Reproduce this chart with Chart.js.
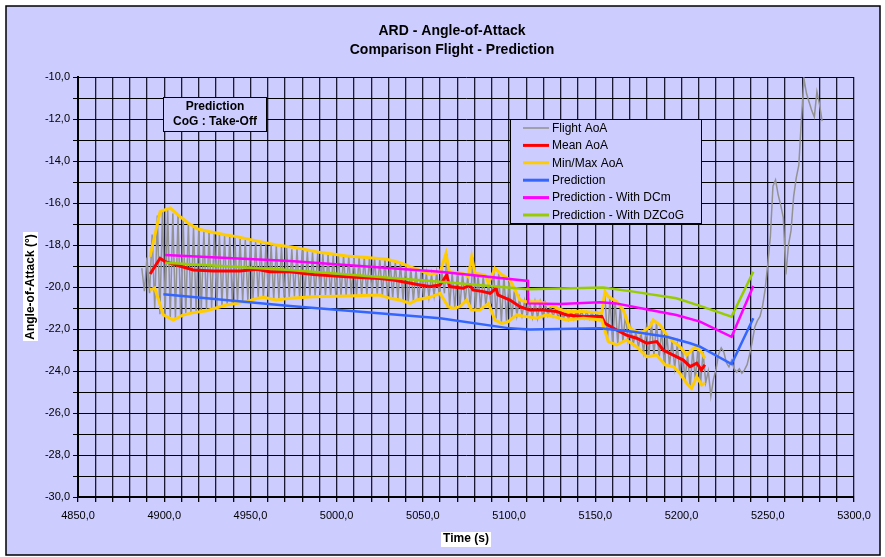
<!DOCTYPE html>
<html>
<head>
<meta charset="utf-8">
<script src="https://cdn.jsdelivr.net/npm/chart.js@4/dist/chart.umd.min.js"></script>
<style>
  html, body { margin: 0; padding: 0; background: #ffffff; }
  #c { display: block; }
</style>
</head>
<body>
<canvas id="c" width="885" height="557"></canvas>
<script>
// ---------------- DATA ----------------
const chartTitle = ['ARD - Angle-of-Attack', 'Comparison Flight - Prediction'];
const xAxisTitle = 'Time (s)';
const yAxisTitle = 'Angle-of-Attack (°)';
const annotationLines = ['Prediction', 'CoG : Take-Off'];

const xTickValues = [4850, 4900, 4950, 5000, 5050, 5100, 5150, 5200, 5250, 5300];
const xTickLabels = ['4850,0', '4900,0', '4950,0', '5000,0', '5050,0', '5100,0', '5150,0', '5200,0', '5250,0', '5300,0'];
const yTickValues = [-30, -28, -26, -24, -22, -20, -18, -16, -14, -12, -10];
const yTickLabels = ['-30,0', '-28,0', '-26,0', '-24,0', '-22,0', '-20,0', '-18,0', '-16,0', '-14,0', '-12,0', '-10,0'];

const seriesNames = ['Flight AoA', 'Mean AoA', 'Min/Max AoA', 'Prediction', 'Prediction - With DCm', 'Prediction - With DZCoG'];

// Flight AoA: sampled every 1.5 s starting at 4887 s
const flightStart = 4887;
const flightStep = 1.5;
const flightAoA = [
  -19.1, -20.2, -18.6, -20.3, -17.5, -21.0, -16.6, -21.3, -16.4, -21.4,
  -16.3, -21.5, -16.5, -21.5, -16.6, -21.35, -16.85, -21.3, -17.0, -21.2,
  -17.15, -21.15, -17.3, -21.1, -17.3, -21.05, -17.4, -21.0, -17.45, -20.95,
  -17.5, -20.9, -17.55, -20.85, -17.6, -20.8, -17.65, -20.75, -17.7, -20.7,
  -17.75, -20.65, -17.8, -20.55, -17.85, -20.5, -17.9, -20.55, -17.95, -20.6,
  -18.0, -20.6, -18.05, -20.55, -18.1, -20.5, -18.15, -20.5, -18.2, -20.45,
  -18.2, -20.5, -18.25, -20.45, -18.3, -20.45, -18.35, -20.45, -18.38, -20.45,
  -18.42, -20.42, -18.45, -20.45, -18.48, -20.42, -18.5, -20.43, -18.52, -20.42,
  -18.55, -20.42, -18.56, -20.4, -18.57, -20.4, -18.58, -20.4, -18.6, -20.38,
  -18.62, -20.38, -18.65, -20.42, -18.68, -20.5, -18.72, -20.55, -18.8, -20.6,
  -18.85, -20.65, -18.95, -20.75, -19.05, -20.68, -19.15, -20.62, -19.25, -20.55,
  -19.35, -20.48, -19.4, -20.42, -19.3, -20.35, -19.25, -20.3, -18.45, -20.9,
  -19.3, -21.0, -19.35, -20.95, -19.35, -20.7, -19.5, -21.0, -18.6, -21.1,
  -19.4, -21.05, -19.45, -20.9, -19.8, -20.8, -19.15, -21.5, -19.3, -21.7,
  -19.45, -21.65, -19.6, -21.55, -20.2, -21.35, -20.55, -21.35, -20.65, -21.4,
  -20.7, -21.45, -20.7, -21.48, -20.72, -21.42, -20.78, -21.35, -20.95, -21.4,
  -21.05, -21.45, -21.1, -21.5, -21.15, -21.55, -21.15, -21.53, -21.15, -21.5,
  -21.15, -21.5, -21.18, -21.52, -21.2, -21.55, -21.22, -21.55, -21.2, -20.3,
  -22.5, -20.55, -22.7, -20.65, -22.75, -20.95, -22.6, -21.3, -22.55, -21.95,
  -22.7, -22.15, -22.85, -22.2, -23.1, -22.0, -23.3, -21.65, -23.25, -21.7,
  -23.4, -22.0, -23.7, -22.3, -23.75, -22.55, -23.85, -22.75, -24.1, -22.95,
  -24.45, -23.2, -24.8, -22.95, -24.4, -22.9, -24.6, -23.1, -24.55, -24.0,
  -25.2, -24.4, -23.9, -23.2, -22.9, -23.1, -23.6, -23.8, -23.5, -23.9,
  -24.05, -23.9, -24.1, -23.95, -23.7, -23.2, -22.6, -21.9, -21.6, -21.4,
  -20.9, -20.1, -18.9, -17.6, -15.2, -14.9, -15.6, -16.1, -16.7, -19.4,
  -18.0, -17.3, -15.7, -14.8, -14.2, -12.0, -10.1, -10.8,
  -11.2, -11.6, -11.9, -10.7, -11.3, -12.1
];

const meanTimes = [4891.8, 4897.6, 4900.5, 4909.0, 4916.9, 4928.5, 4944.0, 4953.6, 4961.0, 4973.0,
  4986.5, 5005.8, 5025.0, 5033.0, 5040.6, 5048.3, 5054.0, 5060.0, 5063.8, 5065.5,
  5073.4, 5077.3, 5079.0, 5085.0, 5089.0, 5092.4, 5093.5, 5100.5, 5106.3, 5112.0,
  5119.8, 5127.6, 5133.4, 5143.0, 5153.7, 5155.6, 5162.4, 5168.0, 5174.0, 5179.8,
  5185.6, 5189.4, 5195.2, 5201.0, 5205.0, 5208.8, 5211.5, 5213.5];
const meanAoA = [-19.38, -18.63, -18.79, -19.00, -19.19, -19.24, -19.24, -19.16, -19.27, -19.27,
  -19.40, -19.51, -19.59, -19.67, -19.79, -19.90, -19.98, -19.90, -19.43, -19.98,
  -20.06, -19.90, -20.14, -20.22, -20.30, -20.06, -20.38, -20.62, -20.94, -21.10,
  -21.10, -21.17, -21.33, -21.41, -21.41, -21.73, -22.05, -22.29, -22.44, -22.68,
  -22.60, -23.00, -23.24, -23.48, -23.79, -23.63, -23.95, -23.70];

const maxTimes = [4891.8, 4897.6, 4903.4, 4908.0, 4913.8, 4919.6, 4926.5, 4936.0, 4942.0, 4955.5,
  4965.0, 4973.0, 4978.7, 4990.0, 5005.8, 5017.4, 5029.0, 5036.7, 5042.5, 5050.2,
  5054.0, 5060.0, 5063.4, 5065.3, 5073.4, 5076.3, 5078.3, 5080.2, 5086.0, 5088.0,
  5091.8, 5094.7, 5100.5, 5106.3, 5110.0, 5118.0, 5121.8, 5129.5, 5133.4, 5143.0,
  5153.7, 5155.6, 5157.5, 5162.4, 5166.2, 5170.0, 5176.0, 5181.7, 5183.6, 5187.5,
  5191.4, 5195.2, 5199.0, 5203.0, 5206.8, 5208.8, 5211.5, 5213.5];
const maxAoA = [-18.56, -16.41, -16.24, -16.57, -16.95, -17.24, -17.37, -17.52, -17.60, -17.84,
  -18.00, -18.08, -18.16, -18.35, -18.52, -18.59, -18.68, -18.84, -19.03, -19.27,
  -19.40, -19.30, -18.40, -19.27, -19.35, -19.51, -18.56, -19.35, -19.43, -19.83,
  -19.11, -19.35, -19.67, -20.62, -20.70, -20.70, -20.81, -21.05, -21.17, -21.17,
  -21.25, -20.22, -20.46, -20.70, -21.10, -21.97, -22.21, -21.89, -21.57, -21.81,
  -22.29, -22.60, -22.84, -23.24, -22.92, -22.86, -23.10, -23.40];

const minTimes = [4891.8, 4894.5, 4899.5, 4905.3, 4911.0, 4916.9, 4924.6, 4936.0, 4947.8, 4953.6,
  4957.5, 4965.0, 4973.0, 4986.5, 5005.8, 5025.0, 5031.0, 5036.7, 5042.5, 5046.4,
  5054.0, 5060.0, 5064.7, 5067.6, 5071.5, 5075.4, 5078.3, 5083.0, 5088.0, 5091.8,
  5095.7, 5099.5, 5104.4, 5110.0, 5116.0, 5121.8, 5127.6, 5133.4, 5143.0, 5153.7,
  5157.5, 5162.4, 5168.0, 5174.0, 5179.8, 5185.6, 5190.4, 5195.2, 5199.0, 5203.0,
  5205.8, 5208.8, 5211.7, 5213.5];
const minAoA = [-20.14, -20.05, -21.33, -21.57, -21.33, -21.22, -21.13, -20.86, -20.70, -20.54,
  -20.49, -20.62, -20.54, -20.46, -20.43, -20.38, -20.54, -20.62, -20.78, -20.62,
  -20.49, -20.30, -20.94, -21.02, -20.94, -20.62, -21.10, -21.10, -20.78, -21.57,
  -21.73, -21.65, -21.33, -21.41, -21.49, -21.33, -21.44, -21.57, -21.49, -21.57,
  -22.60, -22.76, -22.52, -22.84, -23.32, -23.24, -23.71, -23.79, -24.11, -24.59,
  -24.83, -24.27, -24.67, -24.55];

const predTimes = [4899.5, 4973.0, 5060.0, 5100.5, 5112.0, 5152.7, 5172.0, 5191.4, 5205.0, 5210.7, 5229.0, 5241.6];
const predAoA = [-20.35, -20.90, -21.49, -21.97, -22.02, -21.97, -22.13, -22.37, -22.68, -22.84, -23.67, -21.49];

const dcmTimes = [4900.5, 4973.0, 5060.0, 5111.0, 5111.0, 5129.5, 5152.7, 5162.0, 5181.7, 5197.0, 5210.7, 5229.0, 5241.6];
const dcmAoA = [-18.48, -18.76, -19.27, -19.71, -20.78, -20.81, -20.73, -20.78, -21.10, -21.33, -21.65, -22.37, -19.95];

const dzcogTimes = [4900.5, 4973.0, 5060.0, 5111.0, 5154.6, 5172.0, 5197.0, 5210.7, 5229.0, 5241.6];
const dzcogAoA = [-18.84, -19.19, -19.75, -20.11, -20.02, -20.22, -20.54, -20.90, -21.41, -19.27];

// ---------------- STYLE ----------------
const FONT = "'Liberation Sans', Arial, Helvetica, sans-serif";
const BG = '#CCCCFF';
const colors = {
  flight: '#929292',
  mean: '#FF0000',
  minmax: '#FFCC00',
  pred: '#3366FF',
  dcm: '#FF00FF',
  dzcog: '#99CC00'
};

const xy = (ts, vs) => ts.map((t, i) => ({ x: t, y: vs[i] }));
const flightXY = flightAoA.map((v, i) => ({ x: flightStart + i * flightStep, y: v }));

const framePlugin = {
  id: 'frame',
  beforeDraw(chart) {
    const ctx = chart.ctx;
    ctx.save();
    ctx.fillStyle = '#ffffff';
    ctx.fillRect(0, 0, chart.width, chart.height);
    ctx.fillStyle = BG;
    ctx.fillRect(6, 6, 874, 549);
    ctx.strokeStyle = '#000';
    ctx.lineWidth = 1.5;
    ctx.strokeRect(6, 6, 874, 549);
    // white backgrounds behind axis titles
    ctx.font = 'bold 12px ' + FONT;
    const ca = chart.chartArea;
    const wx = ctx.measureText(xAxisTitle).width;
    const cx = (ca.left + ca.right) / 2;
    ctx.fillStyle = '#ffffff';
    ctx.fillRect(Math.round(cx - wx / 2 - 2), 532, Math.round(wx + 4), 15);
    const wy = ctx.measureText(yAxisTitle).width;
    const cy = (ca.top + ca.bottom) / 2;
    ctx.fillRect(23, Math.round(cy - wy / 2 - 2), 15, Math.round(wy + 4));
    ctx.restore();
  },
  afterDraw(chart) {
    const ctx = chart.ctx;
    ctx.save();
    // Title
    ctx.fillStyle = '#000';
    ctx.font = 'bold 14px ' + FONT;
    ctx.textAlign = 'center';
    ctx.textBaseline = 'middle';
    ctx.fillText(chartTitle[0], 452, 31);
    ctx.fillText(chartTitle[1], 452, 50);

    // Annotation box
    ctx.fillStyle = BG;
    ctx.fillRect(163.5, 97.5, 103, 34);
    ctx.strokeStyle = '#000';
    ctx.lineWidth = 1;
    ctx.strokeRect(163.5, 97.5, 103, 34);
    ctx.fillStyle = '#000';
    ctx.font = 'bold 12px ' + FONT;
    ctx.fillText(annotationLines[0], 215, 107);
    ctx.fillText(annotationLines[1], 215, 122);

    // Legend box
    const lx = 510.5, ly = 119.5, lw = 191, lh = 104;
    ctx.fillStyle = BG;
    ctx.fillRect(lx, ly, lw, lh);
    ctx.strokeStyle = '#000';
    ctx.lineWidth = 1;
    ctx.strokeRect(lx, ly, lw, lh);
    const legendColors = [colors.flight, colors.mean, colors.minmax, colors.pred, colors.dcm, colors.dzcog];
    const legendWidths = [1.5, 3, 3, 3, 3, 3];
    ctx.textAlign = 'left';
    ctx.font = '12px ' + FONT;
    for (let i = 0; i < seriesNames.length; i++) {
      const yy = 128 + i * 17.4;
      ctx.strokeStyle = legendColors[i];
      ctx.lineWidth = legendWidths[i];
      ctx.beginPath();
      ctx.moveTo(523, yy);
      ctx.lineTo(549, yy);
      ctx.stroke();
      ctx.fillStyle = '#000';
      ctx.fillText(seriesNames[i], 552, yy + 0.5);
    }
    ctx.restore();
  }
};

const lineDs = (label, data, color, width, order) => ({
  label, data, borderColor: color, backgroundColor: color, borderWidth: width,
  pointRadius: 0, fill: false, tension: 0, order
});

new Chart(document.getElementById('c'), {
  type: 'line',
  data: {
    datasets: [
      lineDs(seriesNames[0], flightXY, colors.flight, 1.5, 7),
      lineDs(seriesNames[1], xy(meanTimes, meanAoA), colors.mean, 3, 6),
      lineDs(seriesNames[2], xy(maxTimes, maxAoA), colors.minmax, 3, 5),
      lineDs(seriesNames[2] + ' (min)', xy(minTimes, minAoA), colors.minmax, 3, 5),
      lineDs(seriesNames[3], xy(predTimes, predAoA), colors.pred, 2.5, 4),
      lineDs(seriesNames[4], xy(dcmTimes, dcmAoA), colors.dcm, 2.5, 3),
      lineDs(seriesNames[5], xy(dzcogTimes, dzcogAoA), colors.dzcog, 2.5, 2)
    ]
  },
  options: {
    responsive: false,
    animation: false,
    devicePixelRatio: 1,
    layout: { padding: { left: 10, right: 31, top: 77, bottom: 5 } },
    plugins: {
      legend: { display: false },
      title: { display: false },
      tooltip: { enabled: false }
    },
    scales: {
      x: {
        type: 'linear',
        min: 4850, max: 5300,
        afterFit(s) { s.height = 55; },
        ticks: {
          stepSize: 10, autoSkip: false, maxRotation: 0, minRotation: 0,
          padding: 7, color: '#000', font: { size: 11, family: FONT },
          callback(v) { const i = xTickValues.indexOf(v); return i >= 0 ? xTickLabels[i] : ''; }
        },
        grid: { color: '#1a1a30', lineWidth: 1.3, tickLength: 5, tickColor: '#000' },
        border: { color: '#000', width: 2 },
        title: { display: true, text: xAxisTitle, color: '#000', font: { size: 12, weight: 'bold', family: FONT }, padding: { top: 4, bottom: 6 } }
      },
      y: {
        type: 'linear',
        min: -30, max: -10,
        afterFit(s) { s.width = 68; },
        ticks: {
          stepSize: 1, autoSkip: false, padding: 3, color: '#000', font: { size: 11, family: FONT },
          callback(v) { const i = yTickValues.indexOf(v); return i >= 0 ? yTickLabels[i] : ''; }
        },
        grid: { color: '#000', lineWidth: 1, tickLength: 5, tickColor: '#000' },
        border: { color: '#000', width: 2 },
        title: { display: true, text: yAxisTitle, color: '#000', font: { size: 12, weight: 'bold', family: FONT }, padding: { top: 13, bottom: 4 } }
      }
    }
  },
  plugins: [framePlugin]
});
</script>
</body>
</html>
